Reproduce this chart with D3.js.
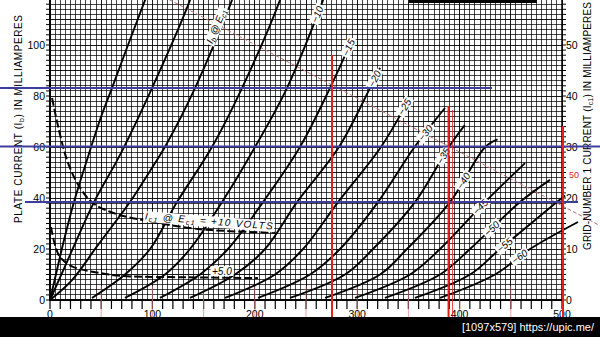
<!DOCTYPE html>
<html>
<head>
<meta charset="utf-8">
<script src="https://cdn.jsdelivr.net/npm/d3@7"></script>
<style>
  html, body { margin: 0; padding: 0; background: #fff; }
  svg { display: block; }
</style>
</head>
<body>
<div id="chart"></div>
<script>
// grid bias (Ec1) of each plate curve, volts
const gridBias = [10, 5, 0, -5, -10, -15, -20, -25, -30, -35, -40, -45, -50, -55, -60];

// plate curves, [plate volts, plate mA], one list per bias above
const plateCurves = [
  [[0, 0], [6.8, 11.8], [13.7, 23.5], [23.4, 38.4], [36.1, 54.9], [48.8, 70.6], [60.5, 83.1], [76.2, 100], [92.8, 117.6], [97, 122]],
  [[0, 0], [19.5, 17.6], [43, 38.4], [68.4, 56.9], [99.6, 83.1], [136.7, 117.6], [141, 123]],
  [[0, 0], [21.5, 7.8], [46.9, 21.6], [78.1, 38.4], [97.7, 50.6], [113.3, 60.8], [141.6, 83.1], [177.7, 117.6], [182, 123]],
  [[41, 0.8], [73.2, 10], [97.7, 20], [124, 38.4], [158.2, 60], [187.5, 83.1], [224.6, 117.6], [229, 123]],
  [[73.2, 0.8], [112.3, 10], [136.7, 20], [168, 38.4], [200.2, 60], [231.4, 83.1], [266.6, 117.6], [268.5, 120]],
  [[107.4, 0.8], [146.5, 10], [173.8, 20], [208, 38.4], [244.1, 60], [273.4, 83.1], [294.9, 102]],
  [[136.7, 0.8], [180.7, 10], [210, 20], [241.2, 38.4], [282.2, 60], [312.5, 83.1], [322.3, 91]],
  [[170.9, 0.8], [219.7, 10], [247.1, 20], [281.3, 38.4], [323.2, 60], [348.6, 77.3]],
  [[203.1, 0.8], [253.9, 10], [283.2, 20], [320.3, 38.4], [356, 60], [385.7, 75.3]],
  [[234.4, 0.8], [288.1, 10], [315.4, 20], [356.4, 38.4], [389.5, 60], [405, 68.6]],
  [[268.6, 0.8], [322.3, 10], [348.6, 20], [390.6, 38.4], [425, 60], [437, 63]],
  [[297.9, 0.8], [351.6, 10], [380.9, 20], [424.8, 38.4], [463.9, 53.7]],
  [[327.1, 0.8], [380.9, 10], [410.2, 20], [459, 38.4], [488.3, 47.1]],
  [[356.4, 0.8], [410.2, 10], [439.5, 20], [495, 38.4], [503, 41]],
  [[380.9, 0.8], [434.6, 10], [468.8, 20], [515.6, 30.6]]
];

// plate current at which each bias label sits on its curve (null: no label shown)
const labelMa = [null, null, null, null, 112, 99, 86.7, 75.7, 65.5, 56.5, 46.7, 36.5, 28, 21.5, 17];

// grid current curves, [plate volts, grid mA] (right axis)
const gridCurrentP10 = [[2, 39.6], [9.8, 32.4], [17.6, 26.9], [29.3, 22], [42, 19], [58.6, 17.3], [75.2, 16.3], [90.8, 15.7], [136.7, 14.1], [175.8, 13.5], [219.7, 13.2]];
const gridCurrentP5 = [[1, 14.3], [4.9, 10.8], [9.8, 8.4], [22.5, 6.5], [48.8, 5.3], [71.3, 4.7], [117.2, 4.5], [203.1, 4.3]];

// axis ticks
const plateTicks = [0, 100, 200, 300, 400, 500];
const plateMaTicks = [0, 20, 40, 60, 80, 100];
const gridMaTicks = [0, 10, 20, 30, 40, 50];

// hand marked operating points: load line and the three guides
const loadLine = [[106, 120], [535, 29.6]];
const markVolts = [275.4, 389.2, 501];
const markMa = [83.1, 60.2, 38.4];

const W = 600, H = 337;
const svg = d3.select('#chart').append('svg')
  .attr('width', W).attr('height', H)
  .style('font-family', '"Liberation Sans", Arial, sans-serif');

const x = d3.scaleLinear().domain([0, 500]).range([50, 562]);
const y = d3.scaleLinear().domain([0, 120]).range([300, -6]);
const yR = d3.scaleLinear().domain([0, 60]).range([300, -6]);

svg.append('rect').attr('width', W).attr('height', H).attr('fill', '#fff');

// fine graph paper
const grid = svg.append('g').attr('stroke', '#000').attr('shape-rendering', 'crispEdges');
grid.selectAll('.v').data(d3.range(0, 501, 5)).enter().append('line')
  .attr('x1', d => x(d)).attr('x2', d => x(d))
  .attr('y1', 0).attr('y2', y(0))
  .attr('stroke-opacity', d => d % 50 === 0 ? 0.9 : 0.72)
  .attr('stroke-width', 1);
grid.selectAll('.h').data(d3.range(0, 121, 2)).enter().append('line')
  .attr('x1', x(0)).attr('x2', x(500))
  .attr('y1', d => y(d)).attr('y2', d => y(d))
  .attr('stroke-opacity', d => d % 10 === 0 ? 0.9 : 0.72)
  .attr('stroke-width', 1);

// frame
svg.append('line').attr('x1', x(0)).attr('x2', x(0)).attr('y1', 0).attr('y2', y(0) + 1)
  .attr('stroke', '#000').attr('stroke-width', 2);
svg.append('line').attr('x1', x(0) - 1).attr('x2', x(500)).attr('y1', y(0)).attr('y2', y(0))
  .attr('stroke', '#000').attr('stroke-width', 2);
svg.append('line').attr('x1', x(500)).attr('x2', x(500)).attr('y1', 0).attr('y2', y(0))
  .attr('stroke', '#000').attr('stroke-width', 1.5);

// small ticks
svg.append('g').selectAll('line').data(d3.range(0, 501, 10)).enter().append('line')
  .attr('x1', d => x(d)).attr('x2', d => x(d)).attr('y1', y(0)).attr('y2', y(0) + 9)
  .attr('stroke', '#000').attr('stroke-width', 1.2);
svg.append('g').selectAll('line').data(d3.range(0, 119, 2)).enter().append('line')
  .attr('x1', x(0) - 4).attr('x2', x(0)).attr('y1', d => y(d)).attr('y2', d => y(d))
  .attr('stroke', '#000').attr('stroke-width', 1);
svg.append('g').selectAll('line').data(d3.range(0, 59, 1)).enter().append('line')
  .attr('x1', x(500)).attr('x2', x(500) + 4).attr('y1', d => yR(d)).attr('y2', d => yR(d))
  .attr('stroke', '#000').attr('stroke-width', 1);

// faint red marks under the axis
svg.append('g').selectAll('line').data(d3.range(50, 451, 50)).enter().append('line')
  .attr('x1', d => x(d)).attr('x2', d => x(d)).attr('y1', 286).attr('y2', 317)
  .attr('stroke', '#e07a7a').attr('stroke-width', 1).attr('stroke-opacity', 0.7);

// tick labels
svg.append('g').selectAll('text').data(plateTicks).enter().append('text')
  .attr('x', d => x(d)).attr('y', 318).attr('text-anchor', 'middle')
  .attr('font-size', 10.5).text(d => d);
svg.append('g').selectAll('text').data(plateMaTicks).enter().append('text')
  .attr('x', 45).attr('y', d => y(d)).attr('dy', '0.35em').attr('text-anchor', 'end')
  .attr('font-size', 10.5).text(d => d);
svg.append('g').selectAll('text').data(gridMaTicks).enter().append('text')
  .attr('x', 566).attr('y', d => yR(d)).attr('dy', '0.35em')
  .attr('font-size', 10.5).text(d => d);

// axis titles
const leftTitle = svg.append('text')
  .attr('transform', 'translate(22,223) rotate(-90)')
  .attr('font-size', 10).attr('textLength', 208).attr('lengthAdjust', 'spacing');
leftTitle.append('tspan').text('PLATE CURRENT (I');
leftTitle.append('tspan').attr('font-size', 7).attr('dy', 2).text('b');
leftTitle.append('tspan').attr('dy', -2).text(') IN MILLIAMPERES');

const rightTitle = svg.append('text')
  .attr('transform', 'translate(591,250) rotate(-90)')
  .attr('font-size', 10).attr('textLength', 248).attr('lengthAdjust', 'spacing');
rightTitle.append('tspan').text('GRID-NUMBER 1 CURRENT (I');
rightTitle.append('tspan').attr('font-size', 7).attr('dy', 2).text('c1');
rightTitle.append('tspan').attr('dy', -2).text(') IN MILLIAMPERES');

// load line
svg.append('line')
  .attr('x1', x(loadLine[0][0])).attr('y1', y(loadLine[0][1]))
  .attr('x2', x(loadLine[1][0])).attr('y2', y(loadLine[1][1]))
  .attr('stroke', '#c07070').attr('stroke-width', 1).attr('stroke-dasharray', '4,2');

const line = d3.line().x(d => x(d[0])).y(d => y(d[1])).curve(d3.curveCatmullRom.alpha(0.5));
const lineR = d3.line().x(d => x(d[0])).y(d => yR(d[1])).curve(d3.curveCatmullRom.alpha(0.5));

// plate curves
svg.append('g').selectAll('path').data(plateCurves).enter().append('path')
  .attr('d', line).attr('fill', 'none').attr('stroke', '#000').attr('stroke-width', 1.9);

// grid current curves
svg.append('path').attr('d', lineR(gridCurrentP10)).attr('fill', 'none')
  .attr('stroke', '#000').attr('stroke-width', 2).attr('stroke-dasharray', '8,3');
svg.append('path').attr('d', lineR(gridCurrentP5)).attr('fill', 'none')
  .attr('stroke', '#000').attr('stroke-width', 2).attr('stroke-dasharray', '8,3');

// boxed label helper
function boxLabel(cx, cy, angle, anchor, build, len) {
  const g = svg.append('g').attr('transform', `translate(${cx},${cy}) rotate(${angle})`);
  const r = g.append('rect').attr('fill', '#fff');
  const t = g.append('text').attr('text-anchor', anchor).attr('dy', '0.35em')
    .attr('font-size', 10).attr('font-style', 'italic');
  if (len) t.attr('textLength', len).attr('lengthAdjust', 'spacing');
  build(t);
  const bb = t.node().getBBox();
  r.attr('x', bb.x - 1.5).attr('y', bb.y + 0.5).attr('width', bb.width + 3).attr('height', bb.height - 1);
}

// bias labels, placed where each curve reaches its label current
plateCurves.forEach((pts, i) => {
  const ma = labelMa[i];
  if (ma == null) return;
  let k = 1;
  while (k < pts.length - 1 && pts[k][1] < ma) k++;
  const p0 = pts[k - 1], p1 = pts[k];
  const f = (ma - p0[1]) / (p1[1] - p0[1]);
  const eb = p0[0] + f * (p1[0] - p0[0]);
  const ang = Math.atan2(y(p1[1]) - y(p0[1]), x(p1[0]) - x(p0[0])) * 180 / Math.PI;
  boxLabel(x(eb), y(ma), ang, 'middle', t => t.text('\u2212' + Math.abs(gridBias[i])));
});

// label on the zero bias curve (runs off the top)
{
  const pts = plateCurves[2];
  const a = pts[pts.length - 3], c = pts[pts.length - 2];
  const ang = Math.atan2(y(c[1]) - y(a[1]), x(c[0]) - x(a[0])) * 180 / Math.PI;
  boxLabel(209, 43, ang, 'start', t => {
    t.append('tspan').text('I');
    t.append('tspan').attr('font-size', 7).attr('dy', 2).text('b');
    t.append('tspan').attr('dy', -2).text(' @ E');
    t.append('tspan').attr('font-size', 7).attr('dy', 2).text('c1');
  });
}

// labels on the grid current curves
boxLabel(145, 216, 4.5, 'start', t => {
  t.append('tspan').text('I');
  t.append('tspan').attr('font-size', 7).attr('dy', 2).text('c1');
  t.append('tspan').attr('dy', -2).text(' @ E');
  t.append('tspan').attr('font-size', 7).attr('dy', 2).text('c1');
  t.append('tspan').attr('dy', -2).text(' = +10 VOLTS');
}, 128);
boxLabel(212, 271, 0, 'start', t => t.text('+5.0'));

// hand drawn guides
const blue = '#3d3d9e', red = '#e3201b';
const blueSpan = [[0, 492], [0, 600], [25, 578]];
svg.append('g').selectAll('line').data(markMa).enter().append('line')
  .attr('x1', (d, i) => blueSpan[i][0]).attr('x2', (d, i) => blueSpan[i][1])
  .attr('y1', d => y(d)).attr('y2', d => y(d))
  .attr('stroke', blue).attr('stroke-width', 2);
const redTop = [55, 106, 126];
svg.append('g').selectAll('line').data(markVolts).enter().append('line')
  .attr('x1', d => x(d)).attr('x2', d => x(d))
  .attr('y1', (d, i) => redTop[i]).attr('y2', 317)
  .attr('stroke', red).attr('stroke-width', 2);
svg.append('line').attr('x1', x(markVolts[1]) + 4).attr('x2', x(markVolts[1]) + 4)
  .attr('y1', 110).attr('y2', 317).attr('stroke', red).attr('stroke-width', 1).attr('stroke-opacity', 0.8);
svg.append('text').attr('x', 569).attr('y', 178).attr('font-size', 9).attr('fill', red).text('50');

// top bar and bottom strip from the scan
svg.append('rect').attr('x', 409).attr('y', 0).attr('width', 128).attr('height', 3).attr('fill', '#000');
svg.append('rect').attr('x', 0).attr('y', 317).attr('width', W).attr('height', H - 317).attr('fill', '#000');
svg.append('text').attr('x', 594).attr('y', 331).attr('fill', '#fff')
  .attr('text-anchor', 'end').attr('font-size', 11)
  .text('[1097x579] https://upic.me/');
</script>
</body>
</html>
